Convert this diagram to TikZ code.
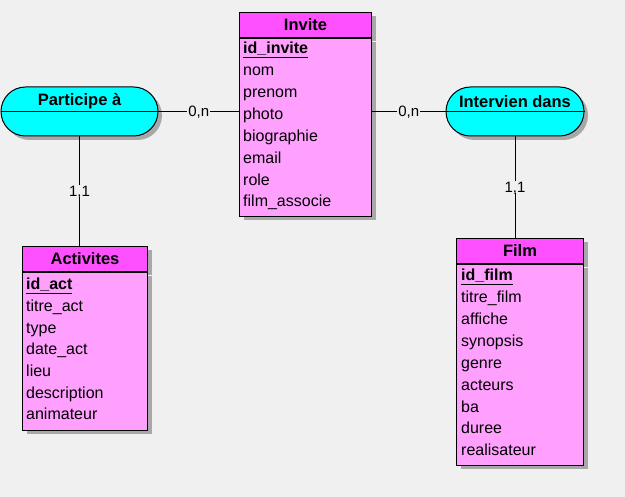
\documentclass[tikz,border=0pt]{standalone}
\usepackage{fontspec}
\setmainfont{Liberation Sans}
\usetikzlibrary{shapes.misc,shadows}
\definecolor{bgc}{HTML}{F0F0F0}
\definecolor{headc}{HTML}{FF50FF}
\definecolor{bodyc}{HTML}{FFA0FF}
\definecolor{assocc}{HTML}{00FFFF}
\definecolor{shadowc}{HTML}{A8A8A8}
\tikzset{
  shade4/.style={drop shadow={shadow xshift=4pt, shadow yshift=-4pt, fill=shadowc, opacity=1}},
  tblhead/.style={draw, line width=1pt, fill=headc, shade4, anchor=north west, inner sep=0pt,
    minimum height=25, font=\fontsize{16.5}{18}\selectfont\bfseries},
  tblbody/.style={draw, line width=1pt, fill=bodyc, shade4, anchor=north west, inner sep=0pt},
  attr/.style={anchor=mid west, inner sep=0pt, font=\fontsize{16}{18}\selectfont},
  keyattr/.style={attr, font=\fontsize{16}{18}\selectfont\bfseries},
  assoc/.style={draw, line width=1pt, fill=assocc, shade4, rounded rectangle, inner sep=0pt,
    minimum height=49},
  atitle/.style={inner sep=0pt, font=\fontsize{16.5}{18}\selectfont\bfseries},
  card/.style={fill=bgc, inner sep=1pt, text depth=0pt, font=\fontsize{15}{17}\selectfont},
  link/.style={line width=1pt}
}
\begin{document}
\begin{tikzpicture}[x=1pt,y=-1pt]
  \fill[bgc] (0,0) rectangle (625,497);
  \useasboundingbox (0,0) rectangle (625,497);

  % associations
  \node[assoc, minimum width=157] (part) at (79.5,111.5) {};
  \draw[link] (part.west) -- (part.east);
  \node[atitle] (partT) at (79.5,101.5) {Participe à};
  \node[assoc, minimum width=138] (interv) at (515,111.5) {};
  \draw[link] (interv.west) -- (interv.east);
  \node[atitle] (intervT) at (515,101.5) {Intervien dans};

  % Invite
  \node[tblhead, minimum width=132] (inviteH) at (239,12) {Invite};
  \node[tblbody, minimum width=132, minimum height=178] (inviteB) at (inviteH.south west) {};
  \node[keyattr] (invite0) at (243,51) {\underline{id\_invite}};
  \foreach \a [count=\i] in {nom,prenom,photo,biographie,email,role,film\_associe}
    \node[attr] (invite\i) at (243,51+21.9*\i) {\a};

  % Activites
  \node[tblhead, minimum width=125] (activH) at (22,246) {Activites};
  \node[tblbody, minimum width=125, minimum height=158] (activB) at (activH.south west) {};
  \node[keyattr] (activ0) at (26,287) {\underline{id\_act}};
  \foreach \a [count=\i] in {titre\_act,type,date\_act,lieu,description,animateur}
    \node[attr] (activ\i) at (26,287+21.7*\i) {\a};

  % Film
  \node[tblhead, minimum width=127] (filmH) at (456,238) {Film};
  \node[tblbody, minimum width=127, minimum height=201] (filmB) at (filmH.south west) {};
  \node[keyattr] (film0) at (461,278) {\underline{id\_film}};
  \foreach \a [count=\i] in {titre\_film,affiche,synopsis,genre,acteurs,ba,duree,realisateur}
    \node[attr] (film\i) at (461,278+21.9*\i) {\a};

  % links
  \draw[link] (part.east) -- node[card] (c1) {0,n} (part.east -| inviteB.west);
  \draw[link] (interv.west) -- node[card] (c2) {0,n} (interv.west -| inviteB.east);
  \draw[link] (part.south) -- node[card] (c3) {1,1} (part.south |- activH.north);
  \draw[link] (interv.south) -- node[card] (c4) {1,1} (interv.south |- filmH.north);
\end{tikzpicture}
\end{document}
